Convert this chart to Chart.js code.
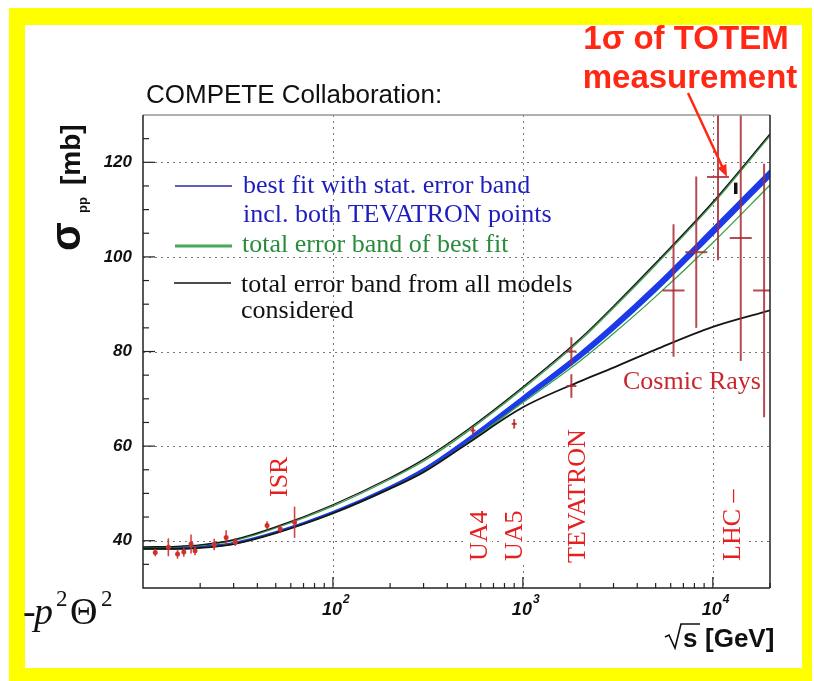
<!DOCTYPE html>
<html>
<head>
<meta charset="utf-8">
<script src="https://cdn.jsdelivr.net/npm/chart.js@4/dist/chart.umd.min.js"></script>
<style>
  html, body { margin: 0; padding: 0; background: #fff; }
  #wrap { position: relative; width: 814px; height: 681px; }
  canvas { display: block; }
</style>
</head>
<body>
<div id="wrap"><canvas id="c" width="814" height="681"></canvas></div>
<script>
// sqrt(s) grid (GeV) on which the fitted curves are tabulated
const energies  = [10, 15, 20, 30, 50, 100, 200, 300, 500, 1000, 2000, 3000, 5000, 10000, 20000];
// best fit sigma_pp (mb) and its statistical half-width
const bestFit   = [38.4, 38.4, 38.7, 39.5, 41.8, 46.0, 51.3, 55.0, 61.0, 70.0, 79.2, 85.2, 93.4, 105.4, 117.6];
const statErr   = [0.1, 0.1, 0.1, 0.1, 0.1, 0.15, 0.2, 0.25, 0.35, 0.5, 0.6, 0.65, 0.7, 0.75, 0.8];
// total error band of the best fit
const totalHi   = [38.6, 38.7, 39.0, 40.0, 42.7, 47.3, 53.0, 56.8, 62.8, 72.1, 82.3, 89.2, 98.3, 111.2, 125.6];
const totalLo   = [38.2, 38.2, 38.5, 39.3, 41.6, 45.7, 51.0, 54.6, 60.4, 69.2, 78.0, 83.8, 91.6, 103.0, 115.2];
// total error band from all models considered
const modelsHi  = [38.7, 38.8, 39.1, 40.2, 42.9, 47.6, 53.3, 57.2, 63.2, 72.5, 82.7, 89.6, 98.7, 111.6, 126.0];
const modelsLo  = [38.3, 38.3, 38.5, 39.3, 41.6, 45.8, 51.0, 54.5, 60.3, 68.2, 73.7, 76.6, 80.4, 85.2, 88.7];

// measurements: sqrt(s) (GeV), sigma (mb), error (mb)
const isrE      = [11.6, 13.6, 15.2, 16.4, 17.9, 18.8, 23.7, 27.4, 30.6, 45, 52.8, 62.8];
const isrSigma  = [37.5, 38.6, 37.2, 37.6, 39.3, 37.9, 39.2, 40.7, 39.7, 43.2, 42.5, 43.9];
const isrErr    = [0.8, 1.9, 1.0, 1.0, 2.0, 1.0, 1.2, 1.5, 0.8, 0.9, 0.9, 3.3];
const uaE       = [546, 900];
const uaSigma   = [63.3, 64.7];
const uaErr     = [1.0, 1.0];
const tevE      = [1800, 1800];
const tevSigma  = [80.0, 72.7];
const tevErr    = [3.0, 2.5];
const cosmicE     = [6210, 8180, 10650, 14030, 18620];
const cosmicSigma = [92.9, 101.0, 116.9, 104.0, 92.9];
const cosmicErr   = [14.0, 16.0, 17.6, 26.0, 26.8];
const totemE     = [13200];
const totemSigma = [114.5];
const totemErr   = [1.2];

// axis ticks
const yMajorTicks = [40, 60, 80, 100, 120];
const xDecades    = [2, 3, 4];

const pts = (xs, ys) => xs.map((x, i) => ({ x, y: ys[i] }));
const shifted = (xs, ys, d, s) => xs.map((x, i) => ({ x, y: ys[i] + s * d[i] }));

const RED = 'rgb(228,32,32)';
const BAR = 'rgba(168,42,52,0.85)';
const SANS = '"Liberation Sans", Arial, sans-serif';
const SERIF = '"Liberation Serif", "Times New Roman", serif';

function vLabel(ctx, text, xBase, yStart, color) {
  ctx.save();
  ctx.translate(xBase, yStart);
  ctx.rotate(-Math.PI / 2);
  ctx.font = '26px ' + SERIF;
  const w = ctx.measureText(text).width;
  ctx.fillStyle = '#fff';
  ctx.fillRect(-3, -20, w + 6, 25);
  ctx.fillStyle = color;
  ctx.textBaseline = 'alphabetic';
  ctx.fillText(text, 0, 0);
  ctx.restore();
}

const decor = {
  id: 'decor',
  beforeDraw(chart) {
    const ctx = chart.ctx;
    ctx.save();
    ctx.fillStyle = '#fff';
    ctx.fillRect(0, 0, chart.width, chart.height);
    ctx.fillStyle = '#ffff00';
    ctx.fillRect(9, 8, 803, 673);
    ctx.fillStyle = '#fff';
    ctx.fillRect(25, 25, 777, 643);
    ctx.restore();
  },
  beforeDatasetsDraw(chart) {
    const ctx = chart.ctx, a = chart.chartArea;
    const xs = chart.scales.x, ys = chart.scales.y;
    ctx.save();
    // dotted grid
    ctx.strokeStyle = 'rgb(120,120,120)';
    ctx.lineWidth = 1;
    ctx.setLineDash([2, 4]);
    yMajorTicks.forEach(v => {
      const y = Math.round(ys.getPixelForValue(v)) + 0.5;
      ctx.beginPath(); ctx.moveTo(a.left, y); ctx.lineTo(a.right, y); ctx.stroke();
    });
    xDecades.forEach(k => {
      const x = Math.round(xs.getPixelForValue(Math.pow(10, k))) + 0.5;
      ctx.beginPath(); ctx.moveTo(x, a.top); ctx.lineTo(x, a.bottom); ctx.stroke();
    });
    ctx.setLineDash([]);

    // experiment labels
    vLabel(ctx, 'ISR', 287, 497, RED);
    vLabel(ctx, 'UA4', 487, 561, RED);
    vLabel(ctx, 'UA5', 522, 561, RED);
    vLabel(ctx, 'TEVATRON', 585, 563, RED);
    vLabel(ctx, 'LHC \u2013', 740, 561, RED);
    ctx.font = '26px ' + SERIF;
    ctx.fillStyle = 'rgb(200,40,45)';
    ctx.textBaseline = 'alphabetic';
    ctx.fillText('Cosmic Rays', 623, 389);

    // legend
    ctx.lineWidth = 1.6;
    ctx.strokeStyle = 'rgb(40,40,170)';
    ctx.beginPath(); ctx.moveTo(175, 186); ctx.lineTo(232, 186); ctx.stroke();
    ctx.lineWidth = 3;
    ctx.strokeStyle = 'rgb(70,170,90)';
    ctx.beginPath(); ctx.moveTo(175, 246); ctx.lineTo(232, 246); ctx.stroke();
    ctx.lineWidth = 1.6;
    ctx.strokeStyle = '#111';
    ctx.beginPath(); ctx.moveTo(174, 283); ctx.lineTo(231, 283); ctx.stroke();
    ctx.font = '26px ' + SERIF;
    ctx.fillStyle = 'rgb(30,30,190)';
    ctx.fillText('best fit with stat. error band', 243, 193);
    ctx.fillText('incl. both TEVATRON points', 243, 222);
    ctx.fillStyle = 'rgb(40,140,60)';
    ctx.fillText('total error band of best fit', 242, 252);
    ctx.fillStyle = '#111';
    ctx.fillText('total error band from all models', 241, 292);
    ctx.fillText('considered', 241, 318);
    ctx.restore();
  },
  afterDatasetsDraw(chart) {
    const ctx = chart.ctx, a = chart.chartArea;
    const xs = chart.scales.x, ys = chart.scales.y;
    ctx.save();

    // vertical error bars
    ctx.save();
    ctx.beginPath();
    ctx.rect(a.left, a.top, a.right - a.left, a.bottom - a.top);
    ctx.clip();
    chart.data.datasets.forEach(ds => {
      if (!ds.errorBars) return;
      ctx.strokeStyle = ds.errorColor || BAR;
      ctx.lineWidth = ds.errorWidth || 2;
      ds.data.forEach((p, i) => {
        const x = xs.getPixelForValue(p.x);
        const y1 = ys.getPixelForValue(p.y - ds.errorBars[i]);
        const y2 = ys.getPixelForValue(p.y + ds.errorBars[i]);
        ctx.beginPath(); ctx.moveTo(x, y1); ctx.lineTo(x, y2); ctx.stroke();
      });
    });
    ctx.restore();

    // frame
    ctx.lineWidth = 1.5;
    ctx.strokeStyle = 'rgb(150,150,150)';
    ctx.beginPath(); ctx.moveTo(a.left, a.top); ctx.lineTo(a.right, a.top); ctx.stroke();
    ctx.strokeStyle = '#222';
    ctx.beginPath(); ctx.moveTo(a.right, a.top); ctx.lineTo(a.right, a.bottom); ctx.stroke();
    ctx.beginPath(); ctx.moveTo(a.left, a.top); ctx.lineTo(a.left, a.bottom); ctx.lineTo(a.right, a.bottom); ctx.stroke();

    // y ticks (inward) every 5 mb
    ctx.lineWidth = 1.2;
    for (let v = 35; v <= 125; v += 5) {
      const y = ys.getPixelForValue(v);
      const len = yMajorTicks.includes(v) ? 12 : 6;
      ctx.beginPath(); ctx.moveTo(a.left, y); ctx.lineTo(a.left + len, y); ctx.stroke();
    }
    // x ticks (inward), log minor ticks
    for (let k = 1; k <= 4; k++) {
      for (let m = 1; m <= 9; m++) {
        const v = m * Math.pow(10, k);
        if (v <= 10 || v > 20000) continue;
        const x = xs.getPixelForValue(v);
        const len = m === 1 ? 11 : 5;
        ctx.beginPath(); ctx.moveTo(x, a.bottom); ctx.lineTo(x, a.bottom - len); ctx.stroke();
      }
    }

    // tick labels
    ctx.fillStyle = '#111';
    ctx.font = 'italic bold 17px ' + SANS;
    ctx.textAlign = 'right';
    ctx.textBaseline = 'middle';
    yMajorTicks.forEach(v => ctx.fillText(String(v), 132, ys.getPixelForValue(v)));
    ctx.textBaseline = 'alphabetic';
    xDecades.forEach(k => {
      const x = xs.getPixelForValue(Math.pow(10, k));
      ctx.font = 'italic bold 18px ' + SANS;
      ctx.textAlign = 'center';
      ctx.fillText('10', x - 1, 615);
      ctx.font = 'italic bold 12px ' + SANS;
      ctx.textAlign = 'left';
      ctx.fillText(String(k), x + 10, 603);
    });

    // x axis title with a drawn radical sign
    ctx.textAlign = 'left';
    ctx.font = 'bold 26px ' + SANS;
    ctx.fillText('s', 683, 647);
    ctx.fillText('[GeV]', 705, 647);
    ctx.strokeStyle = '#111';
    ctx.lineWidth = 1.6;
    ctx.beginPath();
    ctx.moveTo(665, 637); ctx.lineTo(669, 635); ctx.lineTo(675, 648);
    ctx.lineTo(681, 624); ctx.lineTo(700, 624);
    ctx.stroke();

    // y axis title
    ctx.save();
    ctx.translate(80, 251);
    ctx.rotate(-Math.PI / 2);
    ctx.font = 'bold 42px ' + SANS;
    ctx.fillText('\u03C3', 0, 0);
    ctx.font = 'bold 13px ' + SANS;
    ctx.fillText('pp', 38, 7);
    ctx.font = 'bold 28px ' + SANS;
    ctx.fillText('[mb]', 66, 0);
    ctx.restore();

    // headings
    ctx.font = '26px ' + SANS;
    ctx.fillText('COMPETE Collaboration:', 146, 103);
    ctx.fillStyle = 'rgb(255,40,20)';
    ctx.font = 'bold 33px ' + SANS;
    ctx.textAlign = 'center';
    ctx.fillText('1\u03C3 of TOTEM', 686, 49);
    ctx.fillText('measurement', 690, 88);

    // arrow to the measurement
    const tipX = xs.getPixelForValue(cosmicE[2]) + 9;
    const tipY = ys.getPixelForValue(cosmicSigma[2]);
    const sx = 688, sy = 93;
    const ang = Math.atan2(tipY - sy, tipX - sx);
    ctx.strokeStyle = 'rgb(255,40,20)';
    ctx.lineWidth = 2.5;
    ctx.beginPath(); ctx.moveTo(sx, sy); ctx.lineTo(tipX - 8 * Math.cos(ang), tipY - 8 * Math.sin(ang)); ctx.stroke();
    ctx.fillStyle = 'rgb(255,40,20)';
    ctx.beginPath();
    ctx.moveTo(tipX, tipY);
    ctx.lineTo(tipX - 13 * Math.cos(ang - 0.38), tipY - 13 * Math.sin(ang - 0.38));
    ctx.lineTo(tipX - 13 * Math.cos(ang + 0.38), tipY - 13 * Math.sin(ang + 0.38));
    ctx.closePath(); ctx.fill();

    // formula fragment
    ctx.fillStyle = '#111';
    ctx.textAlign = 'left';
    ctx.font = '38px ' + SERIF;
    ctx.fillText('-', 23, 624);
    ctx.font = 'italic 38px ' + SERIF;
    ctx.fillText('p', 34, 624);
    ctx.font = '23px ' + SERIF;
    ctx.fillText('2', 56, 606);
    ctx.font = '38px ' + SERIF;
    ctx.fillText('\u0398', 70, 624);
    ctx.font = '23px ' + SERIF;
    ctx.fillText('2', 101, 606);

    ctx.restore();
  }
};

const curve = (data, color, width, order) => ({
  data, borderColor: color, borderWidth: width, pointRadius: 0,
  cubicInterpolationMode: 'monotone', fill: false, order
});
const points = (data, err, style, radius, color, order, extra) => Object.assign({
  data, showLine: false, pointStyle: style, pointRadius: radius,
  pointBorderWidth: 2, pointBorderColor: color, pointBackgroundColor: color,
  borderColor: color, errorBars: err, order
}, extra || {});

new Chart(document.getElementById('c'), {
  type: 'line',
  data: {
    datasets: [
      // stat. error band of the best fit
      Object.assign(curve(shifted(energies, bestFit, statErr, 1), 'rgb(28,58,232)', 1.4, 8),
        { fill: '+1', backgroundColor: 'rgb(28,58,232)' }),
      curve(shifted(energies, bestFit, statErr, -1), 'rgb(28,58,232)', 1.4, 9),
      curve(pts(energies, totalHi), 'rgb(50,160,70)', 1.3, 5),
      curve(pts(energies, totalLo), 'rgb(50,160,70)', 1.3, 6),
      curve(pts(energies, modelsHi), '#151515', 1.3, 4),
      curve(pts(energies, modelsLo), '#151515', 1.8, 3),
      points(pts(isrE, isrSigma), isrErr, 'circle', 1.5, 'rgb(215,50,50)', 2, { errorColor: 'rgba(205,45,45,0.9)', errorWidth: 1.6 }),
      points(pts(uaE, uaSigma), uaErr, 'line', 2.5, 'rgb(215,50,50)', 2),
      points(pts(tevE, tevSigma), tevErr, 'line', 5, BAR, 2),
      points(pts(cosmicE, cosmicSigma), cosmicErr, 'line', 11, BAR, 1),
      points(pts(totemE, totemSigma), totemErr, 'line', 0.1, '#111', 0, { errorColor: '#111', errorWidth: 3.5 })
    ]
  },
  options: {
    responsive: false,
    animation: false,
    devicePixelRatio: 1,
    layout: { padding: { left: 143, right: 44, top: 115, bottom: 93 } },
    scales: {
      x: { type: 'logarithmic', min: 10, max: 20000, display: false },
      y: { type: 'linear', min: 30, max: 130, display: false }
    },
    plugins: { legend: { display: false }, tooltip: { enabled: false } }
  },
  plugins: [decor]
});
</script>
</body>
</html>
